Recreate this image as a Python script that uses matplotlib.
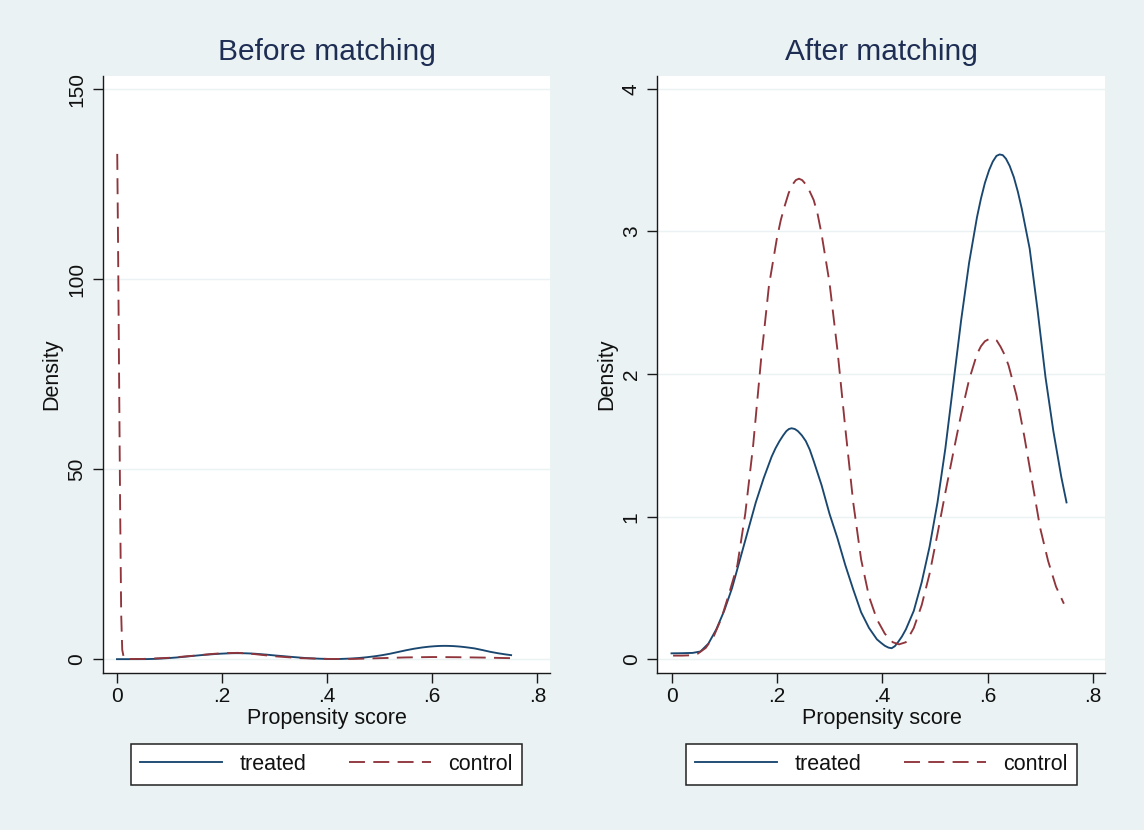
import numpy as np
import matplotlib
matplotlib.use("Agg")
import matplotlib.pyplot as plt
from matplotlib.lines import Line2D

plt.rcParams['font.family'] = ['Liberation Sans', 'DejaVu Sans']
plt.rcParams['lines.scale_dashes'] = False

# ---------------- data ----------------
panel_titles = ["Before matching", "After matching"]
series_names = ["treated", "control"]
x_label = "Propensity score"
y_label = "Density"
x_ticks = [0, 0.2, 0.4, 0.6, 0.8]
x_ticklabels = ["0", ".2", ".4", ".6", ".8"]
y_ticks_before = [0, 50, 100, 150]
y_ticks_after = [0, 1, 2, 3, 4]

treated_x = [0, 0.02, 0.04, 0.055, 0.07, 0.085, 0.1, 0.115, 0.13, 0.145, 0.16,
             0.175, 0.19, 0.1975, 0.205, 0.212, 0.218, 0.223, 0.228, 0.234, 0.24,
             0.2475, 0.255, 0.2625, 0.27, 0.285, 0.3,
             0.315, 0.33, 0.345, 0.36, 0.375, 0.39, 0.398, 0.405, 0.412, 0.418,
             0.424, 0.43, 0.4375, 0.445,
             0.46, 0.475, 0.49, 0.505, 0.52, 0.535, 0.55, 0.565, 0.58, 0.5875, 0.595,
             0.603, 0.61, 0.617, 0.623, 0.629, 0.635, 0.642, 0.65, 0.6575, 0.665,
             0.68, 0.695, 0.71, 0.725, 0.74, 0.75]
treated_y = [0.042, 0.043, 0.045, 0.055, 0.11, 0.21, 0.34, 0.50, 0.70, 0.90, 1.10,
             1.27, 1.42, 1.48, 1.53, 1.57, 1.60, 1.615, 1.62, 1.615, 1.60,
             1.57, 1.53, 1.47, 1.39, 1.22, 1.02,
             0.85, 0.66, 0.49, 0.33, 0.22, 0.14, 0.115, 0.095, 0.082, 0.078,
             0.092, 0.12, 0.16, 0.21,
             0.34, 0.54, 0.79, 1.10, 1.48, 1.93, 2.38, 2.78, 3.10, 3.23, 3.34,
             3.43, 3.49, 3.53, 3.54, 3.535, 3.51, 3.46, 3.38, 3.28, 3.16,
             2.88, 2.45, 1.98, 1.60, 1.28, 1.10]

control_before_x = [0.0005, 0.002, 0.004, 0.006, 0.008, 0.010, 0.013, 0.02, 0.05,
                    0.1, 0.15, 0.18, 0.2, 0.23, 0.26, 0.3, 0.35, 0.4, 0.45, 0.5,
                    0.55, 0.6, 0.65, 0.7, 0.75]
control_before_y = [133, 110, 75, 40, 12, 2.5, 0.4, 0.08, 0.1,
                    0.4, 1.0, 1.4, 1.6, 1.7, 1.4, 0.8, 0.3, 0.1, 0.1, 0.3,
                    0.5, 0.6, 0.55, 0.45, 0.3]

control_after_x = [0.003, 0.02, 0.035, 0.05, 0.065, 0.08, 0.095, 0.11, 0.125, 0.14,
                   0.155, 0.17, 0.185, 0.2, 0.2075, 0.215, 0.2225, 0.23, 0.236, 0.242,
                   0.248, 0.255, 0.2625, 0.27, 0.2775, 0.285,
                   0.3, 0.315, 0.33, 0.345, 0.36, 0.375, 0.39, 0.405, 0.42, 0.432,
                   0.445, 0.46, 0.475, 0.49, 0.505, 0.52, 0.535, 0.55, 0.565, 0.58,
                   0.5875, 0.595, 0.6025, 0.61, 0.6175, 0.625, 0.6325, 0.64, 0.655,
                   0.67, 0.685, 0.7, 0.715, 0.73, 0.745]
control_after_y = [0.026, 0.026, 0.028, 0.04, 0.08, 0.16, 0.29, 0.47, 0.66, 1.02,
                   1.50, 2.10, 2.62, 2.95, 3.08, 3.18, 3.27, 3.33, 3.36, 3.37,
                   3.36, 3.33, 3.28, 3.22, 3.12, 2.98,
                   2.64, 2.17, 1.62, 1.10, 0.70, 0.44, 0.28, 0.18, 0.12, 0.105,
                   0.12, 0.22, 0.38, 0.60, 0.88, 1.17, 1.45, 1.72, 1.96, 2.14,
                   2.195, 2.23, 2.245, 2.25, 2.235, 2.19, 2.135, 2.06, 1.85,
                   1.56, 1.24, 0.92, 0.69, 0.51, 0.39]

# ---------------- style ----------------
BG = "#EAF2F3"
NAVY = "#1a476f"
MAROON = "#90353b"
TITLE_C = "#1e2d53"
DASH = (11.5, 6.0)
LW = 1.35

fig = plt.figure(figsize=(11.44, 8.30), dpi=100, facecolor=BG)

W, H = 1144, 830
def axes_rect(x0, x1, ytop, ybot):
    return [x0 / W, (H - ybot) / H, (x1 - x0) / W, (ybot - ytop) / H]

ax1 = fig.add_axes(axes_rect(103, 550, 76, 673.3))
ax2 = fig.add_axes(axes_rect(657.5, 1105.5, 76, 673.3))

panels = [
    (ax1, panel_titles[0], control_before_x, control_before_y, y_ticks_before, (-3.68, 153.5)),
    (ax2, panel_titles[1], control_after_x, control_after_y, y_ticks_after, (-0.098, 4.09)),
]

for ax, title, cx, cy, yt, ylim in panels:
    ax.set_facecolor("white")
    ax.plot(treated_x, treated_y, color=NAVY, lw=LW, solid_joinstyle='round')
    ax.plot(cx, cy, color=MAROON, lw=LW, dashes=DASH)
    ax.set_xlim(-0.0266, 0.824)
    ax.set_ylim(*ylim)
    ax.set_xticks(x_ticks)
    ax.set_xticklabels(x_ticklabels)
    ax.set_yticks(yt)
    ax.set_yticklabels([str(v) for v in yt])
    for s in ["top", "right"]:
        ax.spines[s].set_visible(False)
    for s in ["left", "bottom"]:
        ax.spines[s].set_color("#1a1a1a")
        ax.spines[s].set_linewidth(1.0)
    ax.tick_params(axis='both', direction='out', length=7, width=1.0,
                   color="#1a1a1a", labelsize=15, labelcolor="#111111")
    ax.tick_params(axis='x', pad=3)
    ax.tick_params(axis='y', pad=5, labelrotation=90)
    for lab in ax.get_yticklabels():
        lab.set_va('center')
    ax.yaxis.grid(True, color=BG, lw=1.0)
    ax.xaxis.grid(False)
    ax.set_axisbelow(True)

    ax.set_title(title, fontsize=21.5, color=TITLE_C, y=1.040, va='center', pad=0)
    ax.set_xlabel(x_label, fontsize=15.5, color="#111111")
    ax.xaxis.set_label_coords(0.5, -0.0765)
    ax.xaxis.label.set_va('center')
    ax.set_ylabel(y_label, fontsize=15.5, color="#111111")
    ax.yaxis.label.set_va('center')

    handles = [Line2D([], [], color=NAVY, lw=LW),
               Line2D([], [], color=MAROON, lw=LW, dashes=DASH)]
    leg = ax.legend(handles, series_names, loc='center', bbox_to_anchor=(0.5, -0.1524),
                    bbox_transform=ax.transAxes, ncol=2, fontsize=15.5,
                    handlelength=3.8, handletextpad=0.8, columnspacing=2.0,
                    borderpad=0.45, fancybox=False, frameon=True, framealpha=1)
    leg.get_frame().set_edgecolor("#222222")
    leg.get_frame().set_linewidth(1.1)
    leg.get_frame().set_facecolor("white")
    for t in leg.get_texts():
        t.set_color("#111111")

ax1.yaxis.set_label_coords((52 - 103) / 447, 0.5)
ax2.yaxis.set_label_coords((607 - 657.5) / 448, 0.5)

fig.savefig("out.png", dpi=100, facecolor=BG)
